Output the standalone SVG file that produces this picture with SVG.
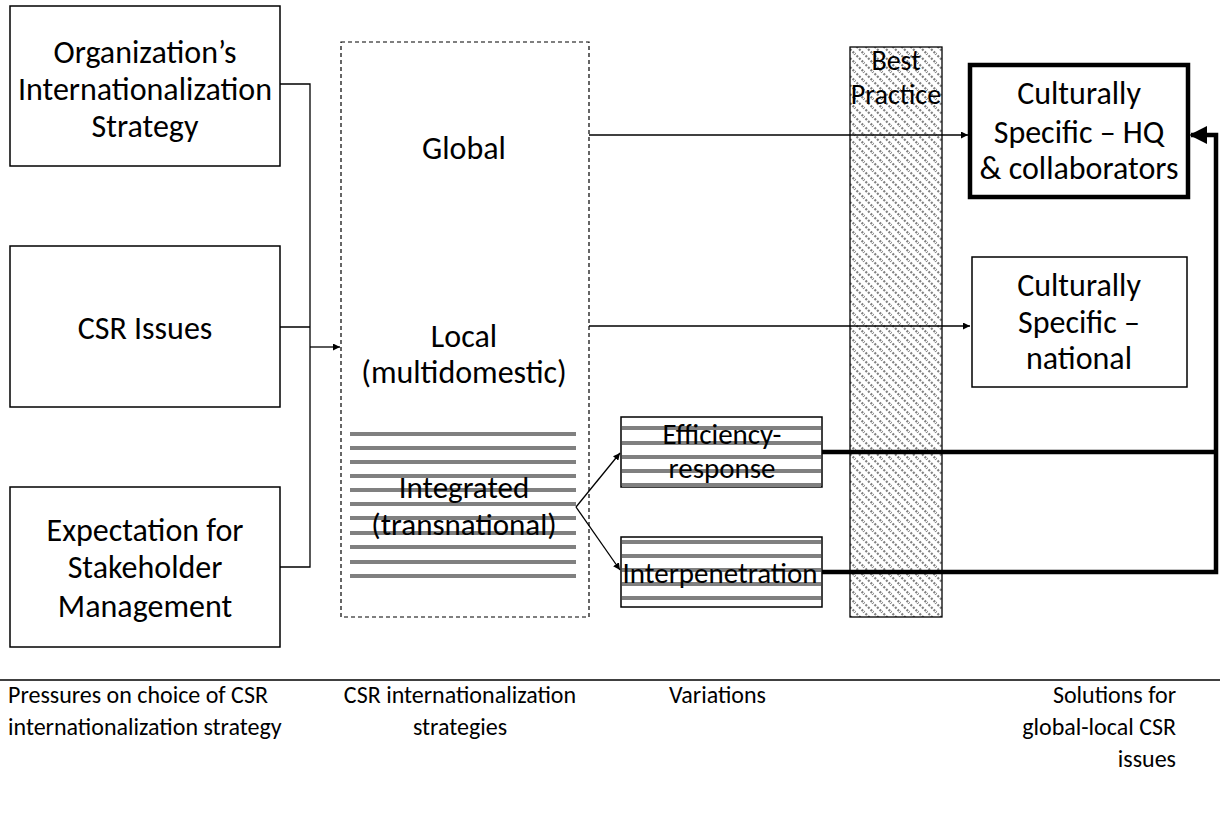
<svg xmlns="http://www.w3.org/2000/svg" width="1220" height="823" viewBox="0 0 1220 823">
<style>
.t{font-family:Carlito,Lato,"Liberation Sans",sans-serif;font-size:32px;fill:#000;text-anchor:middle}
.m{font-size:29px}
.s{font-family:Carlito,Lato,"Liberation Sans",sans-serif;font-size:24px;fill:#000}
.box{fill:#fff;stroke:#000;stroke-width:1.5}
.stripe{stroke:#808080;stroke-width:4}
.thin{fill:none;stroke:#000;stroke-width:1.3}
.thick{fill:none;stroke:#000;stroke-width:4.5}
</style>
<defs>
<pattern id="hatch" patternUnits="userSpaceOnUse" width="9" height="9">
<rect width="9" height="9" fill="#fff"/>
<path d="M-1,-1 L10,10 M-1,8 L1,10 M8,-1 L10,1" stroke="#808080" stroke-width="2.2" stroke-dasharray="2 1.6"/>
</pattern>
<marker id="ah" viewBox="0 0 10 10" refX="10" refY="5" markerWidth="7" markerHeight="7" markerUnits="userSpaceOnUse" orient="auto">
<path d="M0,0 L10,5 L0,10 z" fill="#000"/>
</marker>
<marker id="ahb" viewBox="0 0 10 10" refX="9" refY="5" markerWidth="4" markerHeight="4" orient="auto">
<path d="M0,0 L10,5 L0,10 z" fill="#000"/>
</marker>
</defs>
<rect width="1220" height="823" fill="#fff"/>

<g id="best-practice">
<rect x="850" y="47" width="92" height="570" fill="url(#hatch)" stroke="#000" stroke-width="1.3"/>
<text class="t" x="896" y="70" style="font-size:28px">Best</text>
<text class="t" x="896" y="104" style="font-size:28px">Practice</text>
</g>

<g id="org-strategy">
<rect class="box" x="10" y="6" width="270" height="160"/>
<text class="t" x="145" y="63">Organization’s</text>
<text class="t" x="145" y="100">Internationalization</text>
<text class="t" x="145" y="137">Strategy</text>
</g>

<g id="csr-issues">
<rect class="box" x="10" y="246" width="270" height="161"/>
<text class="t" x="145" y="339">CSR Issues</text>
</g>

<g id="stakeholder">
<rect class="box" x="10" y="487" width="270" height="160"/>
<text class="t" x="145" y="541">Expectation for</text>
<text class="t" x="145" y="578">Stakeholder</text>
<text class="t" x="145" y="617">Management</text>
</g>

<g id="strategies">
<rect x="341" y="42" width="248" height="575" fill="none" stroke="#000" stroke-width="1.2" stroke-dasharray="4 3"/>
<text class="t" x="464" y="159">Global</text>
<text class="t" x="464" y="347">Local</text>
<text class="t" x="464" y="383">(multidomestic)</text>
</g>

<g id="integrated">
<g class="stripe">
<line x1="350" y1="434" x2="576" y2="434"/>
<line x1="350" y1="448" x2="576" y2="448"/>
<line x1="350" y1="462" x2="576" y2="462"/>
<line x1="350" y1="476" x2="576" y2="476"/>
<line x1="350" y1="490" x2="576" y2="490"/>
<line x1="350" y1="504" x2="576" y2="504"/>
<line x1="350" y1="518" x2="576" y2="518"/>
<line x1="350" y1="533" x2="576" y2="533"/>
<line x1="350" y1="547" x2="576" y2="547"/>
<line x1="350" y1="562" x2="576" y2="562"/>
<line x1="350" y1="576" x2="576" y2="576"/>
</g>
<text class="t" x="464" y="498" style="font-size:31px">Integrated</text>
<text class="t" x="464" y="535" style="font-size:31px">(transnational)</text>
</g>

<g id="efficiency">
<rect class="box" x="621" y="417" width="201" height="70"/>
<g class="stripe">
<line x1="622" y1="428" x2="821" y2="428"/>
<line x1="622" y1="443" x2="821" y2="443"/>
<line x1="622" y1="457" x2="821" y2="457"/>
<line x1="622" y1="471" x2="821" y2="471"/>
<line x1="622" y1="485" x2="821" y2="485"/>
</g>
<text class="t m" x="722" y="444">Efficiency-</text>
<text class="t m" x="722" y="478">response</text>
</g>

<g id="interpenetration">
<rect class="box" x="621" y="537" width="201" height="70"/>
<g class="stripe">
<line x1="622" y1="542" x2="821" y2="542"/>
<line x1="622" y1="556" x2="821" y2="556"/>
<line x1="622" y1="570" x2="821" y2="570"/>
<line x1="622" y1="584" x2="821" y2="584"/>
<line x1="622" y1="598" x2="821" y2="598"/>
</g>
<text class="t m" x="720" y="583">Interpenetration</text>
</g>

<g id="hq">
<rect x="970" y="65" width="218" height="132" fill="#fff" stroke="#000" stroke-width="4.5"/>
<text class="t" x="1079" y="104">Culturally</text>
<text class="t" x="1079" y="143">Specific – HQ</text>
<text class="t" x="1079" y="179">&amp; collaborators</text>
</g>

<g id="national">
<rect class="box" x="972" y="257" width="215" height="130"/>
<text class="t" x="1079" y="296">Culturally</text>
<text class="t" x="1079" y="333">Specific –</text>
<text class="t" x="1079" y="369">national</text>
</g>

<g id="connectors">
<path class="thin" d="M280,84 H310 V567 H280 M280,327 H310"/>
<path class="thin" d="M310,347 H340" marker-end="url(#ah)"/>
<path class="thin" d="M589,135 H968" marker-end="url(#ah)"/>
<path class="thin" d="M589,326 H970" marker-end="url(#ah)"/>
<path class="thin" d="M576,507 L620,453" marker-end="url(#ah)"/>
<path class="thin" d="M576,507 L620,570" marker-end="url(#ah)"/>
<path class="thick" d="M822,452 H1216 M822,572 H1216 V135 H1200"/>
<path class="thick" d="M1205,135 H1191" marker-end="url(#ahb)"/>
</g>

<g id="footer">
<line x1="0" y1="680" x2="1220" y2="680" stroke="#000" stroke-width="1.5"/>
<text class="s" x="8" y="703">Pressures on choice of CSR</text>
<text class="s" x="8" y="735">internationalization strategy</text>
<text class="s" x="460" y="703" text-anchor="middle">CSR internationalization</text>
<text class="s" x="460" y="735" text-anchor="middle">strategies</text>
<text class="s" x="669" y="703">Variations</text>
<text class="s" x="1176" y="703" text-anchor="end">Solutions for</text>
<text class="s" x="1176" y="735" text-anchor="end">global-local CSR</text>
<text class="s" x="1176" y="767" text-anchor="end">issues</text>
</g>
</svg>
